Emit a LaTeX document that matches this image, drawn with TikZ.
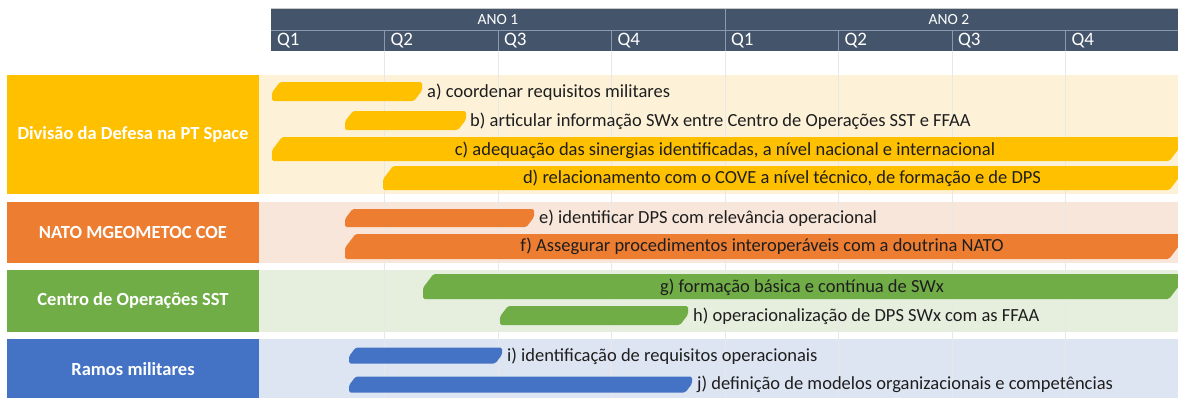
\documentclass[tikz,border=0pt]{standalone}
\usepackage{fontspec}
\setmainfont{Carlito}
\definecolor{hdr}{HTML}{44546A}
\definecolor{hdrline}{HTML}{8C99AC}
\definecolor{cY}{HTML}{FFC000}
\definecolor{cYl}{HTML}{FDF2D8}
\definecolor{cO}{HTML}{ED7D31}
\definecolor{cOl}{HTML}{F9E6DA}
\definecolor{cG}{HTML}{70AD47}
\definecolor{cGl}{HTML}{E6EFDE}
\definecolor{cB}{HTML}{4472C4}
\definecolor{cBl}{HTML}{DEE5F2}
\definecolor{txt}{HTML}{1E1E1E}
\newcommand\gbar[5]{%
  \pgfmathsetmacro\gbarTop{#4-#5/2}%
  \pgfmathsetmacro\gbarBot{#4+#5/2}%
  \pgfmathsetmacro\gbarCx{0.42*#5}%
  \pgfmathsetmacro\gbarCy{0.55*#5}%
  \fill[#1, rounded corners=1.6pt] ({#2+\gbarCx},\gbarTop) -- (#3,\gbarTop) -- (#3,{\gbarBot-\gbarCy}) -- ({#3-\gbarCx},\gbarBot) -- (#2,\gbarBot) -- (#2,{\gbarTop+\gbarCy}) -- cycle;}
\tikzset{
  lab/.style={inner sep=0pt, text=white, font=\fontsize{18.5}{22}\selectfont\bfseries, align=center},
  task/.style={inner sep=0pt, text=txt, font=\fontsize{18.5}{22}\selectfont},
  qlab/.style={inner sep=0pt, anchor=west, text=white, font=\fontsize{19}{22}\selectfont},
  ano/.style={inner sep=0pt, text=white, font=\fontsize{15.5}{18}\selectfont},
  grid/.style={draw=black!9, line width=0.8pt},
  hsep/.style={draw=hdrline, line width=0.8pt}
}
\begin{document}
\begin{tikzpicture}[x=1pt,y=-1pt]
\useasboundingbox (0,0) rectangle (1178,397);
\clip (0,0) rectangle (1178,397);
\fill[white] (0,0) rectangle (1178,397);
% bands
\fill[cYl] (7,75) rectangle (1180,194);
\fill[cOl] (7,202) rectangle (1180,263);
\fill[cGl] (7,270) rectangle (1180,332);
\fill[cBl] (7,339) rectangle (1180,400);
% gridlines
\foreach \i in {1,...,7} \draw[grid] ({271+113.5*\i},51) -- ({271+113.5*\i},397);
% header
\fill[hdr] (271,8.5) rectangle (1180,51);
\draw[black!22, line width=0.8pt] (271,8.5) -- (1180,8.5);
\draw[hsep] (271,30) -- (1180,30);
\draw[hsep] (725,8.5) -- (725,51);
\foreach \i in {1,2,3,5,6,7} \draw[hsep] ({271+113.5*\i},30) -- ({271+113.5*\i},51);
\node[ano] (ano1) at (498,19.5) {ANO 1};
\node[ano] (ano2) at (949,19.5) {ANO 2};
\node[qlab] (q1) at (277,41) {Q1};
\node[qlab] (q2) at (390.5,41) {Q2};
\node[qlab] (q3) at (504,41) {Q3};
\node[qlab] (q4) at (617.5,41) {Q4};
\node[qlab] (q5) at (731,41) {Q1};
\node[qlab] (q6) at (844.5,41) {Q2};
\node[qlab] (q7) at (958,41) {Q3};
\node[qlab] (q8) at (1071.5,41) {Q4};
% label boxes
\node[lab, fill=cY, minimum width=252pt, minimum height=119pt] (ldiv) at (133,134.5) {Divisão da Defesa na PT Space};
\node[lab, fill=cO, minimum width=252pt, minimum height=61pt] (lnato) at (133,232.5) {NATO MGEOMETOC COE};
\node[lab, fill=cG, minimum width=252pt, minimum height=62pt] (lcen) at (133,301) {Centro de Operações SST};
\node[lab, fill=cB, minimum width=252pt, minimum height=61pt] (lram) at (133,369.5) {Ramos militares};
% bars
\gbar{cY}{272}{422}{91.5}{19}
\gbar{cY}{345}{466}{120.5}{19}
\gbar{cY}{272}{1179.5}{149}{24}
\gbar{cY}{383}{1179.5}{178}{24}
\gbar{cO}{345}{534}{218}{18}
\gbar{cO}{345}{1179.5}{246.5}{25}
\gbar{cG}{423}{1179.5}{286.5}{25}
\gbar{cG}{500}{688}{315.5}{19}
\gbar{cB}{349}{502}{355.5}{16}
\gbar{cB}{349}{692}{384.5}{16}
% task texts
\node[task, anchor=west] (ta) at (427,92) {a) coordenar requisitos militares};
\node[task, anchor=west] (tb) at (470,121) {b) articular informação SWx entre Centro de Operações SST e FFAA};
\node[task] (tc) at (725,150) {c) adequação das sinergias identificadas, a nível nacional e internacional};
\node[task] (td) at (782,178.5) {d) relacionamento com o COVE a nível técnico, de formação e de DPS};
\node[task, anchor=west] (te) at (539,218) {e) identificar DPS com relevância operacional};
\node[task] (tf) at (762,246.5) {f) Assegurar procedimentos interoperáveis com a doutrina NATO};
\node[task] (tg) at (802,287) {g) formação básica e contínua de SWx};
\node[task, anchor=west] (th) at (693,316) {h) operacionalização de DPS SWx com as FFAA};
\node[task, anchor=west] (ti) at (507,356) {i) identificação de requisitos operacionais};
\node[task, anchor=west] (tj) at (697,384.5) {j) definição de modelos organizacionais e competências};
\end{tikzpicture}
\end{document}
